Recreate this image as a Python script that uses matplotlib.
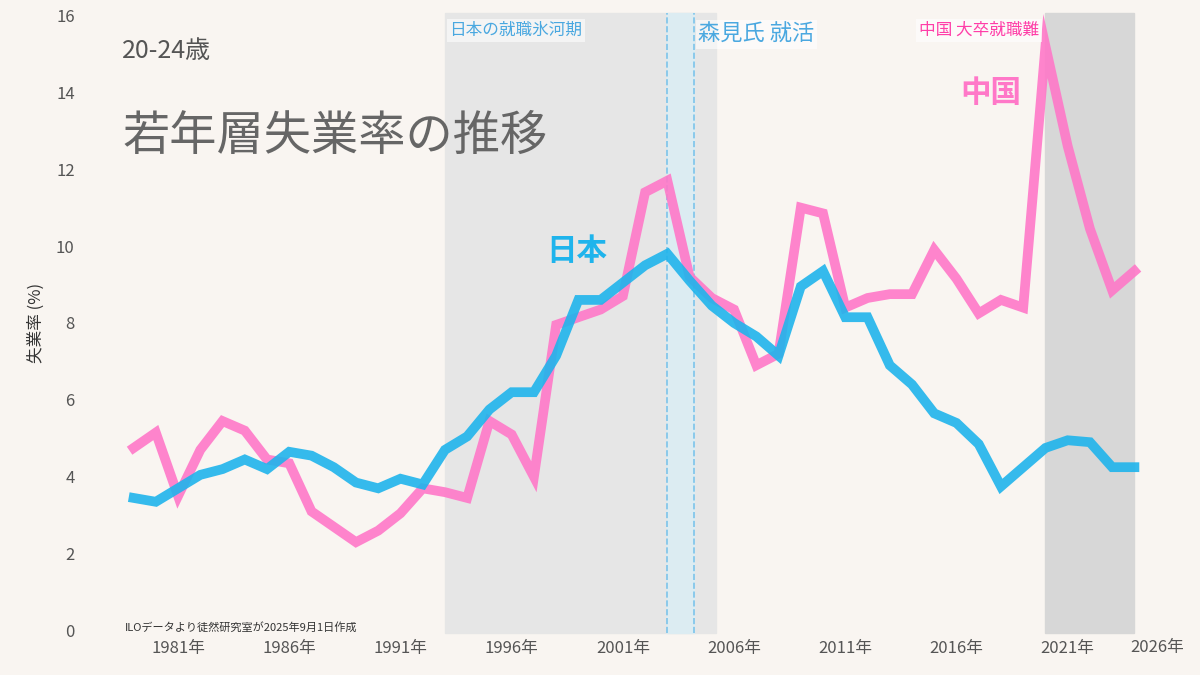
import numpy as np
import matplotlib.pyplot as plt

plt.rcParams['font.family'] = ['Noto Sans CJK JP', 'DejaVu Sans']

years = np.arange(1979, 2025)
japan = [3.45, 3.35, 3.7, 4.05, 4.2, 4.45, 4.2, 4.65, 4.55, 4.25,
         3.85, 3.7, 3.95, 3.8, 4.7, 5.05, 5.75, 6.2, 6.2, 7.15,
         8.6, 8.6, 9.05, 9.5, 9.8, 9.1, 8.45, 8.0, 7.65, 7.15,
         8.95, 9.35, 8.15, 8.15, 6.9, 6.4, 5.65, 5.4, 4.85, 3.75,
         4.25, 4.75, 4.95, 4.9, 4.25, 4.25]
china = [4.75, 5.15, 3.5, 4.7, 5.45, 5.2, 4.45, 4.35, 3.1, 2.7,
         2.3, 2.6, 3.05, 3.7, 3.6, 3.45, 5.45, 5.1, 4.0, 7.95,
         8.15, 8.35, 8.7, 11.4, 11.7, 9.2, 8.65, 8.35, 6.9, 7.2,
         11.0, 10.85, 8.4, 8.65, 8.75, 8.75, 9.9, 9.15, 8.25, 8.6,
         8.4, 15.2, 12.6, 10.45, 8.85, 9.35]

bg = "#f9f5f1"
blue = "#1fb4ec"
pink = "#ff78c8"

fig, ax = plt.subplots(figsize=(12, 6.75), dpi=100)
fig.patch.set_facecolor(bg)
ax.set_facecolor(bg)
fig.subplots_adjust(left=0.09, right=0.975, top=1.0, bottom=0.043)

# shaded periods
ax.axvspan(1993, 2005.2, ymin=0.02, ymax=0.98, color="#e6e6e6", zorder=0)
ax.axvspan(2003, 2004.2, ymin=0.02, ymax=0.98, color="#dcecf2", zorder=0)
ax.axvline(2003, ymin=0.02, ymax=0.98, color="#7cc4ea", lw=1.2, ls="--", zorder=1)
ax.axvline(2004.2, ymin=0.02, ymax=0.98, color="#7cc4ea", lw=1.2, ls="--", zorder=1)
ax.axvspan(2020, 2024, ymin=0.02, ymax=0.98, color="#d7d7d7", zorder=0)

ax.plot(years, china, color=pink, lw=7, alpha=0.9, solid_joinstyle="miter", zorder=3)
ax.plot(years, japan, color=blue, lw=7, alpha=0.9, solid_joinstyle="miter", zorder=4)

ax.set_xlim(1977.85, 2025.6)
ax.set_ylim(-0.4, 16.4)
xt = [1981, 1986, 1991, 1996, 2001, 2006, 2011, 2016, 2021]
ax.set_xticks(xt)
ax.set_xticklabels([f"{y}年" for y in xt])
ax.set_yticks(range(0, 17, 2))
ax.tick_params(length=0, colors="#555555", labelsize=12)
ax.tick_params(axis="x", pad=-4)
ax.tick_params(axis="y", pad=24)
for s in ax.spines.values():
    s.set_visible(False)
ax.set_ylabel("失業率 (%)", fontsize=12, color="#333333", labelpad=8)
# last year label sits at the right edge
ax.text(0.988, 0.011, "2026年", transform=ax.transAxes, fontsize=12, color="#555555",
        ha="center", va="top")

ax.text(1978.5, 14.9, "20-24歳", fontsize=18, color="#555555")
ax.text(1978.5, 12.5, "若年層失業率の推移", fontsize=34, color="#666666")
ax.text(1993.2, 15.6, "日本の就職氷河期", fontsize=12, color="#4aa8e0", va="center",
        bbox=dict(facecolor="white", edgecolor="none", alpha=0.6, pad=2))
ax.text(2004.4, 15.5, "森見氏 就活", fontsize=16, color="#4aa8e0", va="center",
        bbox=dict(facecolor="white", edgecolor="none", alpha=0.6, pad=2))
ax.text(2014.3, 15.6, "中国 大卒就職難", fontsize=12, color="#ff3ea8", va="center",
        bbox=dict(facecolor="white", edgecolor="none", alpha=0.6, pad=2))
ax.text(2000.3, 9.65, "日本", fontsize=22, color=blue, ha="right", fontweight="bold")
ax.text(2018.9, 13.75, "中国", fontsize=22, color=pink, ha="right", fontweight="bold")
ax.text(1978.6, 0.0, "ILOデータより徒然研究室が2025年9月1日作成", fontsize=8, color="#333333")

plt.savefig("out.png", dpi=100, facecolor=bg)
